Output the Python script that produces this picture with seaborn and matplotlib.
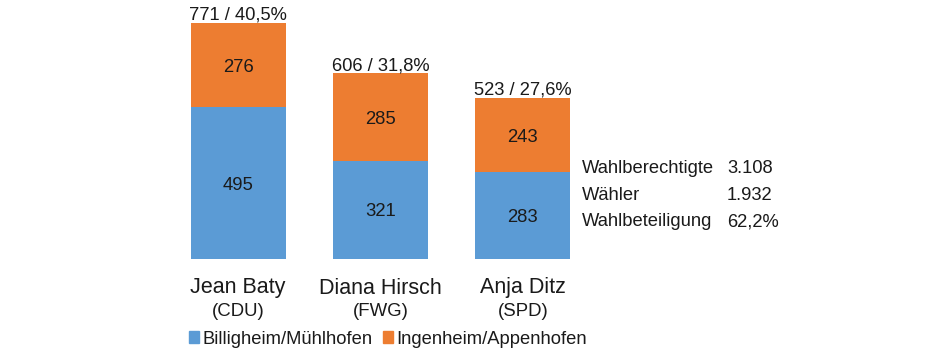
import matplotlib
matplotlib.use("Agg")
import matplotlib.pyplot as plt
from matplotlib.patches import Patch
from matplotlib.transforms import blended_transform_factory
import seaborn as sns
import pandas as pd

candidates = ["Jean Baty", "Diana Hirsch", "Anja Ditz"]
parties = ["(CDU)", "(FWG)", "(SPD)"]
billigheim = [495, 321, 283]
ingenheim = [276, 285, 243]
totals = [771, 606, 523]
percent = ["40,5%", "31,8%", "27,6%"]
series = ["Billigheim/Mühlhofen", "Ingenheim/Appenhofen"]
stats_labels = ["Wahlberechtigte", "Wähler", "Wahlbeteiligung"]
stats_values = ["3.108", "1.932", "62,2%"]

BLUE = "#5B9BD5"
ORANGE = "#ED7D31"
TXT = "#1a1a1a"

sns.set_theme(style="white")
plt.rcParams["font.family"] = ["Liberation Sans", "DejaVu Sans"]

fig = plt.figure(figsize=(9.4, 3.5), dpi=100)
ax = fig.add_axes([167 / 940, 91 / 350, 427 / 940, 245 / 350])

stack_top = [b + i for b, i in zip(billigheim, ingenheim)]
df = pd.DataFrame({"cand": candidates, "top": stack_top, "b": billigheim})
sns.barplot(data=df, x="cand", y="top", color=ORANGE, width=0.667,
            saturation=1, ax=ax, linewidth=0)
sns.barplot(data=df, x="cand", y="b", color=BLUE, width=0.667,
            saturation=1, ax=ax, linewidth=0)

ax.set_xlim(-0.5, 2.5)
ax.set_ylim(0, 800)
for s in ax.spines.values():
    s.set_visible(False)
ax.set_xticks([])
ax.set_yticks([])
ax.set_xlabel("")
ax.set_ylabel("")

for i, (b, g, st, t, p) in enumerate(zip(billigheim, ingenheim, stack_top, totals, percent)):
    ax.text(i, b / 2, str(b), ha="center", va="center_baseline", fontsize=13.3, color=TXT)
    ax.text(i, b + g / 2, str(g), ha="center", va="center_baseline", fontsize=13.3, color=TXT)
    ax.annotate(f"{t} / {p}", (i, st), xytext=(0, 2.3), textcoords="offset points",
                ha="center", va="baseline", fontsize=13.2, color=TXT)

tr = blended_transform_factory(ax.transData, fig.transFigure)
for i, (c, p) in enumerate(zip(candidates, parties)):
    ax.text(i, 1 - 285.5 / 350, c, transform=tr, ha="center", va="center_baseline",
            fontsize=15.5, color=TXT)
    ax.text(i, 1 - 309 / 350, p, transform=tr, ha="center", va="center_baseline",
            fontsize=13.4, color=TXT)

for k, (lab, val) in enumerate(zip(stats_labels, stats_values)):
    y = 1 - (167 + 26.5 * k) / 350
    fig.text(582 / 940, y, lab, ha="left", va="center_baseline", fontsize=13.2, color=TXT)
    fig.text(727 / 940, y, val, ha="left", va="center_baseline", fontsize=13.2, color=TXT)

handles = [Patch(color=BLUE, label=series[0]), Patch(color=ORANGE, label=series[1])]
fig.legend(handles=handles, loc="center", bbox_to_anchor=(388 / 940, 1 - 339 / 350),
           ncol=2, frameon=False, handlelength=0.55, handleheight=0.55,
           handletextpad=0.2, columnspacing=0.55, fontsize=13.2,
           labelcolor=TXT, borderpad=0)

fig.savefig("out.png", dpi=100, facecolor="white")
